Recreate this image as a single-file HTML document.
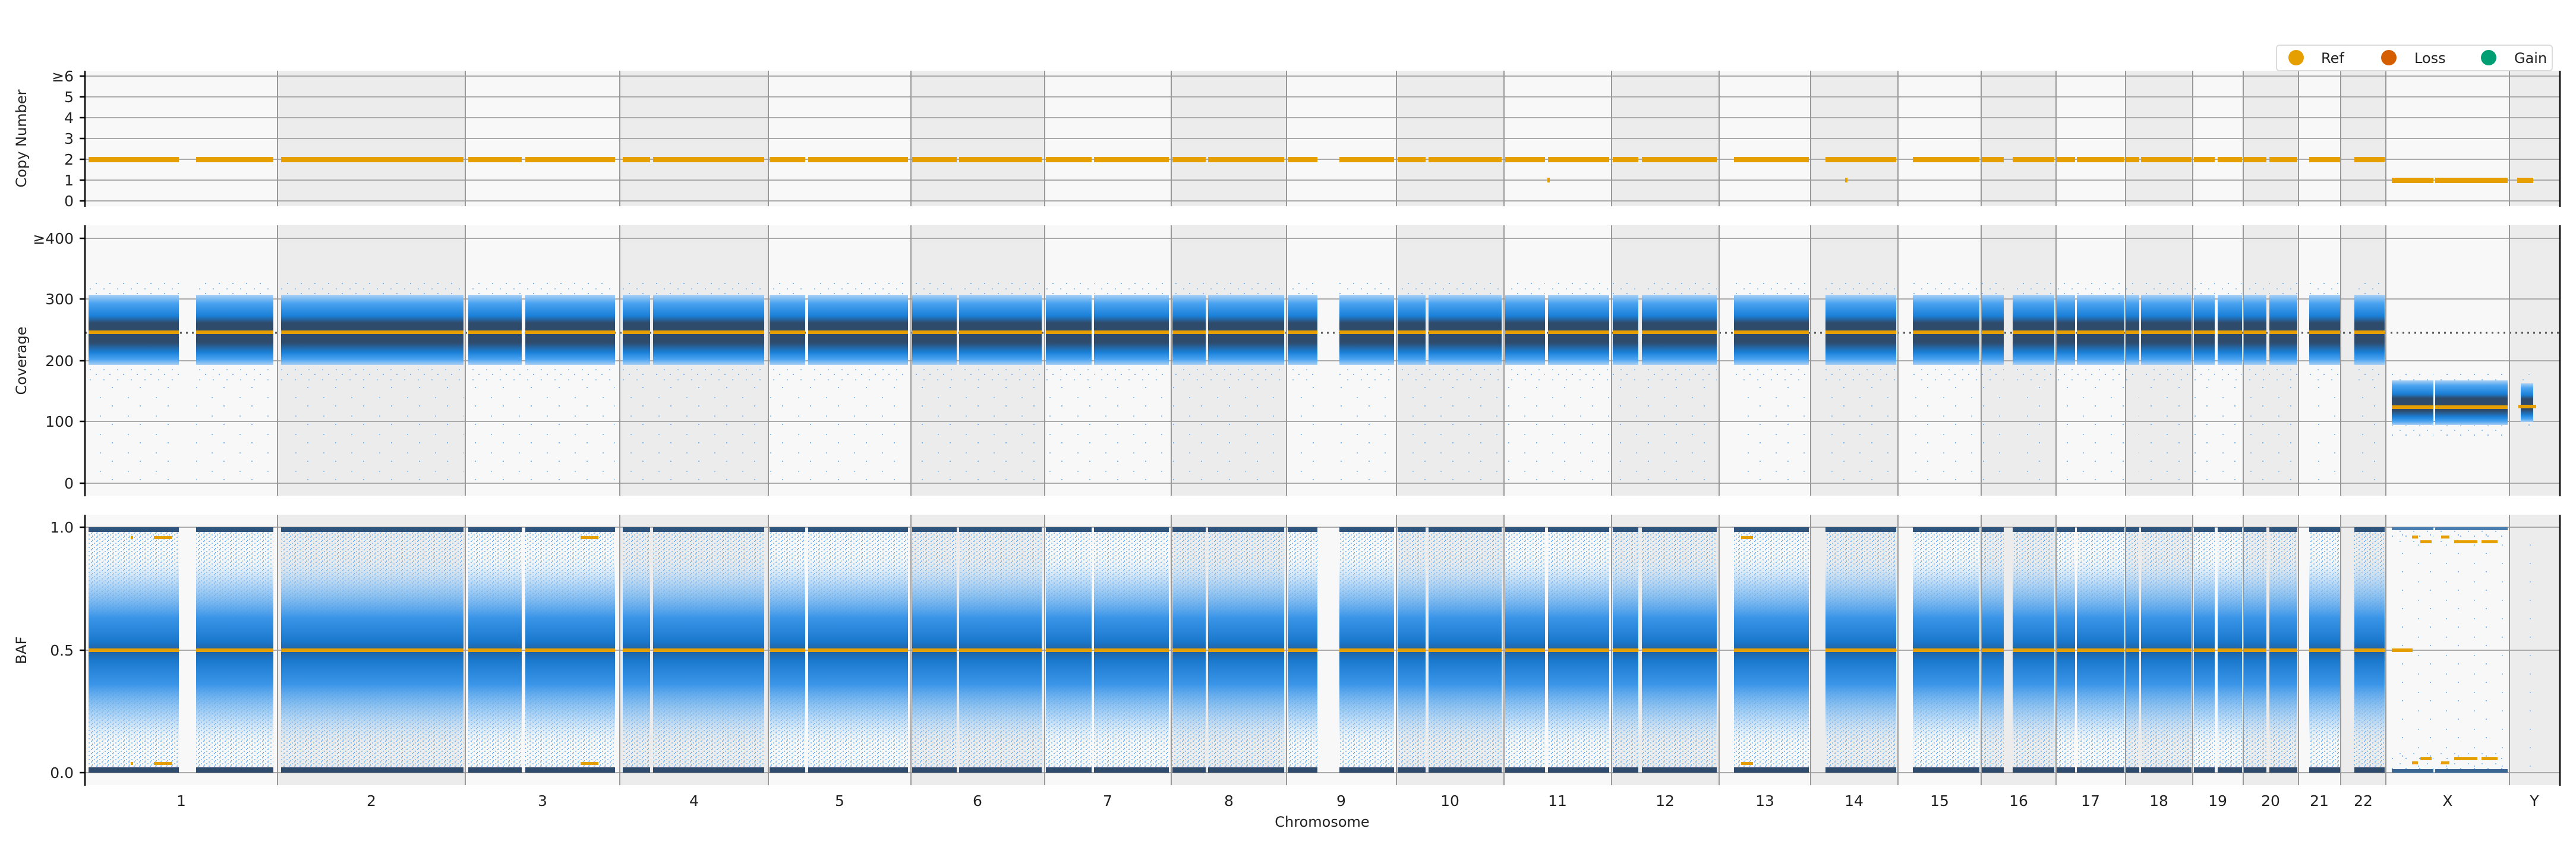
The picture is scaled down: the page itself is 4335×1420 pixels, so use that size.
<!DOCTYPE html>
<html><head><meta charset="utf-8"><style>
html,body{margin:0;padding:0;background:#fff}
svg{display:block}
text{font-family:"DejaVu Sans","Liberation Sans",sans-serif;fill:#222}
</style></head><body>
<svg width="4335" height="1420" viewBox="0 0 4335 1420" xmlns="http://www.w3.org/2000/svg">
<defs>
<clipPath id="auto">
<rect x="149" y="0" width="152" height="1420"/><rect x="330" y="0" width="130" height="1420"/>
<rect x="473" y="0" width="307" height="1420"/>
<rect x="788" y="0" width="90" height="1420"/><rect x="884" y="0" width="151" height="1420"/>
<rect x="1048" y="0" width="46" height="1420"/><rect x="1099" y="0" width="187" height="1420"/>
<rect x="1295" y="0" width="60" height="1420"/><rect x="1360" y="0" width="168" height="1420"/>
<rect x="1535" y="0" width="75" height="1420"/><rect x="1614" y="0" width="139" height="1420"/>
<rect x="1760" y="0" width="77" height="1420"/><rect x="1841" y="0" width="126" height="1420"/>
<rect x="1973" y="0" width="56" height="1420"/><rect x="2033" y="0" width="128" height="1420"/>
<rect x="2167" y="0" width="50" height="1420"/><rect x="2254" y="0" width="92" height="1420"/>
<rect x="2352" y="0" width="47" height="1420"/><rect x="2404" y="0" width="123" height="1420"/>
<rect x="2533" y="0" width="67" height="1420"/><rect x="2605" y="0" width="103" height="1420"/>
<rect x="2714" y="0" width="43" height="1420"/><rect x="2763" y="0" width="126" height="1420"/>
<rect x="2918" y="0" width="126" height="1420"/>
<rect x="3072" y="0" width="119" height="1420"/>
<rect x="3219" y="0" width="112" height="1420"/>
<rect x="3335" y="0" width="37" height="1420"/><rect x="3387" y="0" width="70" height="1420"/>
<rect x="3461" y="0" width="31" height="1420"/><rect x="3495" y="0" width="80" height="1420"/>
<rect x="3578" y="0" width="22" height="1420"/><rect x="3603" y="0" width="85" height="1420"/>
<rect x="3692" y="0" width="35" height="1420"/><rect x="3732" y="0" width="41" height="1420"/>
<rect x="3776" y="0" width="38" height="1420"/><rect x="3819" y="0" width="47" height="1420"/>
<rect x="3886" y="0" width="52" height="1420"/>
<rect x="3962" y="0" width="51" height="1420"/>
</clipPath>
<clipPath id="xc">
<rect x="4025" y="0" width="70" height="1420"/><rect x="4098" y="0" width="122" height="1420"/>
</clipPath>
<pattern id="spk" width="9" height="7" patternUnits="userSpaceOnUse">
<rect x="0" y="0" width="2" height="2" fill="#7fb8f0"/><rect x="5" y="3" width="2" height="2" fill="#8ec3f3"/><rect x="2" y="5" width="1" height="2" fill="#5aa6ee"/>
</pattern>
<pattern id="spk2" width="23" height="17" patternUnits="userSpaceOnUse">
<rect x="0" y="0" width="2" height="2" fill="#7fb8f0"/><rect x="13" y="9" width="2" height="2" fill="#8ec3f3"/>
</pattern>
<pattern id="spk3" width="47" height="31" patternUnits="userSpaceOnUse">
<rect x="0" y="0" width="2" height="2" fill="#7fb8f0"/><rect x="27" y="17" width="2" height="2" fill="#8ec3f3"/>
</pattern>
<linearGradient id="cov" x1="0" y1="0" x2="0" y2="1">
<stop offset="0" stop-color="#a9d0f5"/><stop offset="0.12" stop-color="#4aa3f0"/><stop offset="0.3" stop-color="#1a80d8"/>
<stop offset="0.4" stop-color="#2f4b6c"/><stop offset="0.68" stop-color="#2f4b6c"/><stop offset="0.82" stop-color="#1a80d8"/>
<stop offset="0.92" stop-color="#4aa3f0"/><stop offset="1" stop-color="#a9d0f5"/>
</linearGradient>
<linearGradient id="baf" x1="0" y1="0" x2="0" y2="1">
<stop offset="0" stop-color="#b5d7f6" stop-opacity="0"/><stop offset="0.15" stop-color="#8cc2f2" stop-opacity="0.7"/><stop offset="0.32" stop-color="#3a95e8"/>
<stop offset="0.45" stop-color="#1a78cc"/><stop offset="0.5" stop-color="#22609e"/><stop offset="0.55" stop-color="#1a78cc"/>
<stop offset="0.68" stop-color="#3a95e8"/><stop offset="0.85" stop-color="#8cc2f2" stop-opacity="0.7"/><stop offset="1" stop-color="#b5d7f6" stop-opacity="0"/>
</linearGradient>
</defs>

<g>
<rect x="143" y="119" width="4165" height="228" fill="#f8f8f8"/>
<rect x="143" y="379" width="4165" height="455" fill="#f8f8f8"/>
<rect x="143" y="866" width="4165" height="455" fill="#f8f8f8"/>
</g>
<g fill="#ececec">
<rect x="467" y="119" width="316" height="228"/><rect x="1043" y="119" width="250" height="228"/><rect x="1533" y="119" width="225" height="228"/><rect x="1971" y="119" width="194" height="228"/><rect x="2350" y="119" width="181" height="228"/><rect x="2712" y="119" width="181" height="228"/><rect x="3047" y="119" width="147" height="228"/><rect x="3334" y="119" width="126" height="228"/><rect x="3577" y="119" width="113" height="228"/><rect x="3775" y="119" width="93" height="228"/><rect x="3939" y="119" width="76" height="228"/><rect x="4223" y="119" width="85" height="228"/>
<rect x="467" y="379" width="316" height="455"/><rect x="1043" y="379" width="250" height="455"/><rect x="1533" y="379" width="225" height="455"/><rect x="1971" y="379" width="194" height="455"/><rect x="2350" y="379" width="181" height="455"/><rect x="2712" y="379" width="181" height="455"/><rect x="3047" y="379" width="147" height="455"/><rect x="3334" y="379" width="126" height="455"/><rect x="3577" y="379" width="113" height="455"/><rect x="3775" y="379" width="93" height="455"/><rect x="3939" y="379" width="76" height="455"/><rect x="4223" y="379" width="85" height="455"/>
<rect x="467" y="866" width="316" height="455"/><rect x="1043" y="866" width="250" height="455"/><rect x="1533" y="866" width="225" height="455"/><rect x="1971" y="866" width="194" height="455"/><rect x="2350" y="866" width="181" height="455"/><rect x="2712" y="866" width="181" height="455"/><rect x="3047" y="866" width="147" height="455"/><rect x="3334" y="866" width="126" height="455"/><rect x="3577" y="866" width="113" height="455"/><rect x="3775" y="866" width="93" height="455"/><rect x="3939" y="866" width="76" height="455"/><rect x="4223" y="866" width="85" height="455"/>
</g>

<g stroke="#aaaaaa" stroke-width="2">
<line x1="143" x2="4308" y1="128" y2="128"/><line x1="143" x2="4308" y1="163" y2="163"/><line x1="143" x2="4308" y1="198" y2="198"/><line x1="143" x2="4308" y1="233" y2="233"/><line x1="143" x2="4308" y1="268" y2="268"/><line x1="143" x2="4308" y1="303" y2="303"/><line x1="143" x2="4308" y1="338" y2="338"/>
<line x1="143" x2="4308" y1="401" y2="401"/><line x1="143" x2="4308" y1="503" y2="503"/><line x1="143" x2="4308" y1="607" y2="607"/><line x1="143" x2="4308" y1="709" y2="709"/><line x1="143" x2="4308" y1="813" y2="813"/>
<line x1="143" x2="4308" y1="887" y2="887"/><line x1="143" x2="4308" y1="1094" y2="1094"/><line x1="143" x2="4308" y1="1300" y2="1300"/>
</g>

<rect x="143" y="264" width="4165" height="9" fill="#e69f00" clip-path="url(#auto)"/>
<rect x="4017" y="299" width="210" height="9" fill="#e69f00" clip-path="url(#xc)"/>
<rect x="4236" y="299" width="27" height="9" fill="#e69f00"/>
<rect x="2604" y="299" width="4" height="8" fill="#e69f00"/>
<rect x="3105" y="299" width="4" height="8" fill="#e69f00"/>

<rect x="143" y="470" width="4165" height="175" fill="url(#spk2)" clip-path="url(#auto)"/>
<rect x="143" y="496" width="4165" height="118" fill="url(#cov)" clip-path="url(#auto)"/>
<rect x="143" y="645" width="4165" height="165" fill="url(#spk3)" clip-path="url(#auto)"/>
<rect x="143" y="625" width="4165" height="110" fill="url(#spk2)" clip-path="url(#xc)"/>
<rect x="143" y="640" width="4165" height="75" fill="url(#cov)" clip-path="url(#xc)"/>
<rect x="4242" y="630" width="21" height="90" fill="url(#spk2)"/>
<rect x="4242" y="645" width="21" height="65" fill="url(#cov)"/>
<line x1="143" x2="4308" y1="560" y2="560" stroke="#555" stroke-width="3" stroke-dasharray="3 7"/>
<rect x="143" y="556" width="4165" height="6" fill="#e69f00" clip-path="url(#auto)"/>
<rect x="143" y="682" width="4165" height="6" fill="#e69f00" clip-path="url(#xc)"/>
<rect x="4238" y="681" width="30" height="6" fill="#e69f00"/>

<rect x="143" y="887" width="4165" height="413" fill="url(#spk)" clip-path="url(#auto)"/>
<rect x="143" y="940" width="4165" height="310" fill="url(#baf)" clip-path="url(#auto)"/>
<rect x="143" y="887" width="4165" height="8" fill="#2f557f" clip-path="url(#auto)"/>
<rect x="143" y="1291" width="4165" height="9" fill="#2f4b6c" clip-path="url(#auto)"/>
<rect x="143" y="1091" width="4165" height="6" fill="#e69f00" clip-path="url(#auto)"/>
<rect x="143" y="887" width="4165" height="413" fill="url(#spk3)" clip-path="url(#xc)"/>
<rect x="143" y="887" width="4165" height="30" fill="url(#spk2)" clip-path="url(#xc)"/>
<rect x="143" y="1265" width="4165" height="35" fill="url(#spk2)" clip-path="url(#xc)"/>
<rect x="143" y="887" width="4165" height="5" fill="#4a7db0" clip-path="url(#xc)"/>
<rect x="143" y="1294" width="4165" height="6" fill="#3a6694" clip-path="url(#xc)"/>
<rect x="4242" y="887" width="21" height="413" fill="url(#spk3)"/>
<rect x="4025" y="1091" width="35" height="6" fill="#e69f00"/>
<g fill="#e69f00">
<rect x="4059" y="901" width="10" height="5"/><rect x="4073" y="909" width="19" height="5"/><rect x="4108" y="901" width="14" height="5"/><rect x="4130" y="909" width="39" height="5"/><rect x="4176" y="909" width="27" height="5"/>
<rect x="4059" y="1281" width="10" height="5"/><rect x="4073" y="1274" width="19" height="5"/><rect x="4108" y="1281" width="14" height="5"/><rect x="4130" y="1274" width="39" height="5"/><rect x="4176" y="1274" width="27" height="5"/>
<rect x="220" y="902" width="4" height="5"/><rect x="259" y="902" width="30" height="5"/>
<rect x="220" y="1282" width="4" height="5"/><rect x="259" y="1282" width="30" height="5"/>
<rect x="977" y="902" width="30" height="5"/><rect x="977" y="1282" width="30" height="5"/>
<rect x="2930" y="902" width="20" height="5"/><rect x="2930" y="1282" width="20" height="5"/>
</g>

<g stroke="#999" stroke-width="2">
<path d="M467 119V347M783 119V347M1043 119V347M1293 119V347M1533 119V347M1758 119V347M1971 119V347M2165 119V347M2350 119V347M2531 119V347M2712 119V347M2893 119V347M3047 119V347M3194 119V347M3334 119V347M3460 119V347M3577 119V347M3690 119V347M3775 119V347M3868 119V347M3939 119V347M4015 119V347M4223 119V347"/>
<path d="M467 379V834M783 379V834M1043 379V834M1293 379V834M1533 379V834M1758 379V834M1971 379V834M2165 379V834M2350 379V834M2531 379V834M2712 379V834M2893 379V834M3047 379V834M3194 379V834M3334 379V834M3460 379V834M3577 379V834M3690 379V834M3775 379V834M3868 379V834M3939 379V834M4015 379V834M4223 379V834"/>
<path d="M467 866V1321M783 866V1321M1043 866V1321M1293 866V1321M1533 866V1321M1758 866V1321M1971 866V1321M2165 866V1321M2350 866V1321M2531 866V1321M2712 866V1321M2893 866V1321M3047 866V1321M3194 866V1321M3334 866V1321M3460 866V1321M3577 866V1321M3690 866V1321M3775 866V1321M3868 866V1321M3939 866V1321M4015 866V1321M4223 866V1321"/>
</g>

<g stroke="#000" stroke-width="2.5">
<path d="M143 119V348M4308 119V348M143 379V835M4308 379V835M143 866V1322M4308 866V1322"/>
<path d="M134 128H143M134 163H143M134 198H143M134 233H143M134 268H143M134 303H143M134 338H143M134 401H143M134 503H143M134 607H143M134 709H143M134 813H143M134 887H143M134 1094H143M134 1300H143"/>
</g>

<g font-size="25" text-anchor="end">
<text x="124" y="137">≥6</text><text x="124" y="172">5</text><text x="124" y="207">4</text><text x="124" y="242">3</text><text x="124" y="277">2</text><text x="124" y="312">1</text><text x="124" y="347">0</text>
<text x="124" y="410">≥400</text><text x="124" y="512">300</text><text x="124" y="616">200</text><text x="124" y="718">100</text><text x="124" y="822">0</text>
<text x="124" y="896">1.0</text><text x="124" y="1103">0.5</text><text x="124" y="1309">0.0</text>
</g>
<g font-size="24" text-anchor="middle">
<text transform="translate(44,233) rotate(-90)">Copy Number</text>
<text transform="translate(44,607) rotate(-90)">Coverage</text>
<text transform="translate(44,1094) rotate(-90)">BAF</text>
<text x="2225" y="1391">Chromosome</text>
</g>
<g font-size="25" text-anchor="middle">
<text x="305" y="1356">1</text><text x="625" y="1356">2</text><text x="913" y="1356">3</text><text x="1168" y="1356">4</text><text x="1413" y="1356">5</text><text x="1645" y="1356">6</text><text x="1864" y="1356">7</text><text x="2068" y="1356">8</text><text x="2257" y="1356">9</text><text x="2440" y="1356">10</text><text x="2621" y="1356">11</text><text x="2802" y="1356">12</text><text x="2970" y="1356">13</text><text x="3120" y="1356">14</text><text x="3264" y="1356">15</text><text x="3397" y="1356">16</text><text x="3518" y="1356">17</text><text x="3633" y="1356">18</text><text x="3732" y="1356">19</text><text x="3821" y="1356">20</text><text x="3903" y="1356">21</text><text x="3977" y="1356">22</text><text x="4119" y="1356">X</text><text x="4265" y="1356">Y</text>
</g>

<rect x="3831" y="76" width="464" height="43" rx="5" fill="#fff" stroke="#dcdcdc" stroke-width="2"/>
<circle cx="3864" cy="97" r="13" fill="#e69f00"/>
<circle cx="4020" cy="97" r="13" fill="#d55e00"/>
<circle cx="4188" cy="97" r="13" fill="#009e73"/>
<g font-size="24"><text x="3906" y="106">Ref</text><text x="4063" y="106">Loss</text><text x="4231" y="106">Gain</text></g>
</svg>
</body></html>
